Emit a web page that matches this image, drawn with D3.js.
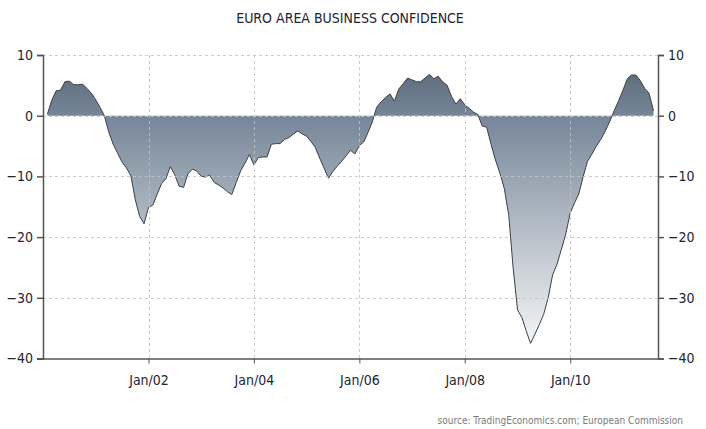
<!DOCTYPE html>
<html>
<head>
<meta charset="utf-8">
<script src="https://cdn.jsdelivr.net/npm/d3@7"></script>
<style>
  body { margin: 0; background: #fff; }
  svg text { font-family: "DejaVu Sans Condensed", "DejaVu Sans", sans-serif; font-stretch: condensed; }
</style>
</head>
<body>
<div id="chart"></div>
<script>
// Dados: índice mensal, fev/2000 a ago/2011
const startMonth = new Date(2000, 1, 1);
const values = [
  0.3, 2.5, 4.1, 4.2, 5.6, 5.7, 5.1, 5.1, 5.2, 4.5, 3.7,
  2.6, 1.3, 0.0, -2.7, -4.7, -6.2, -7.6, -8.6, -9.9, -13.8, -16.6, -17.8,
  -15.1, -14.7, -13.0, -11.2, -10.4, -8.4, -9.7, -11.6, -11.8, -9.6, -8.8, -9.1,
  -10.0, -10.1, -9.8, -11.0, -11.4, -11.9, -12.5, -13.0, -11.0, -9.1, -7.8, -6.4,
  -8.1, -6.9, -6.8, -6.8, -4.7, -4.6, -4.6, -3.9, -3.6, -3.0, -2.5, -3.0,
  -3.4, -4.3, -5.2, -7.0, -8.6, -10.3, -9.2, -8.3, -7.5, -6.6, -5.7, -6.3,
  -4.9, -4.3, -2.8, -1.0, 1.4, 2.3, 3.0, 3.6, 2.4, 4.4, 5.3, 6.2,
  5.9, 5.6, 5.6, 6.2, 6.8, 6.1, 6.5, 5.6, 5.0, 3.2, 1.9, 2.8,
  1.8, 1.2, 0.6, 0.2, -1.7, -1.9, -4.7, -7.3, -9.5, -12.0, -16.4, -25.0,
  -32.0, -33.3, -35.4, -37.5, -36.0, -34.4, -32.7, -30.0, -26.2, -24.5, -22.0, -19.5,
  -16.0, -14.3, -12.9, -10.0, -7.5, -6.3, -5.0, -3.9, -2.5, -1.0, 0.8, 2.4,
  4.2, 6.1, 6.7, 6.7, 5.8, 4.5, 3.7, 0.8
];
const yTicks = [10, 0, -10, -20, -30, -40];
const xTickDates = [new Date(2002, 0, 1), new Date(2004, 0, 1), new Date(2006, 0, 1), new Date(2008, 0, 1), new Date(2010, 0, 1)];
const title = 'EURO AREA BUSINESS CONFIDENCE';
const source = 'source: TradingEconomics.com; European Commission';

const data = values.map((v, i) => ({ date: d3.timeMonth.offset(startMonth, i), value: v }));

const W = 706, H = 429;
const margin = {top: 55, right: 48, bottom: 70, left: 43};
const width = W - margin.left - margin.right;
const height = H - margin.top - margin.bottom - 0.5;

const svg = d3.select('#chart').append('svg')
  .attr('width', W).attr('height', H);

const x = d3.scaleTime()
  .domain([new Date(2000, 0, 1), new Date(2011, 8, 1)])
  .range([0, width]);
const y = d3.scaleLinear().domain([-40, 10]).range([height, 0]);

const g = svg.append('g').attr('transform', `translate(${margin.left},${margin.top})`);

// Gradiente da área
const grad = svg.append('defs').append('linearGradient')
  .attr('id', 'areaGrad')
  .attr('gradientUnits', 'userSpaceOnUse')
  .attr('x1', 0).attr('x2', 0)
  .attr('y1', y(7)).attr('y2', y(-38));
grad.append('stop').attr('offset', '0%').attr('stop-color', '#5e6d7e');
grad.append('stop').attr('offset', '16%').attr('stop-color', '#778799');
grad.append('stop').attr('offset', '100%').attr('stop-color', '#f5f6f7');

const area = d3.area()
  .x(d => x(d.date))
  .y0(y(0))
  .y1(d => y(d.value));

g.append('path')
  .datum(data)
  .attr('d', area)
  .attr('fill', 'url(#areaGrad)');

g.append('path')
  .datum(data)
  .attr('d', d3.line().x(d => x(d.date)).y(d => y(d.value)))
  .attr('fill', 'none')
  .attr('stroke', '#3c3f44')
  .attr('stroke-width', 1);

// Grade tracejada
g.append('g')
  .selectAll('line')
  .data(yTicks.filter(t => t !== -40))
  .enter().append('line')
  .attr('x1', 0).attr('x2', width)
  .attr('y1', d => Math.round(y(d)) + 0.5).attr('y2', d => Math.round(y(d)) + 0.5)
  .attr('stroke', 'rgba(195,195,195,0.85)')
  .attr('stroke-dasharray', '3,3');

g.append('g')
  .selectAll('line')
  .data(xTickDates)
  .enter().append('line')
  .attr('x1', d => Math.round(x(d)) + 0.5).attr('x2', d => Math.round(x(d)) + 0.5)
  .attr('y1', 0).attr('y2', height)
  .attr('stroke', 'rgba(195,195,195,0.85)')
  .attr('stroke-dasharray', '3,3');

// Eixos
const axisColor = '#555';
const yLeft = g.append('g')
  .call(d3.axisLeft(y).tickValues(yTicks).tickSize(6).tickPadding(4));
const yRight = g.append('g')
  .attr('transform', `translate(${width},0)`)
  .call(d3.axisRight(y).tickValues(yTicks).tickSize(6).tickPadding(4));
const xAxis = g.append('g')
  .attr('transform', `translate(0,${height})`)
  .call(d3.axisBottom(x).tickValues(xTickDates).tickSize(5).tickPadding(12)
    .tickFormat(d3.timeFormat('%b/%y')));

[yLeft, yRight, xAxis].forEach(ax => {
  ax.select('.domain').attr('stroke', axisColor).attr('stroke-width', 1.5);
  ax.selectAll('.tick line').attr('stroke', axisColor).attr('stroke-width', 1.5);
  ax.selectAll('text')
    .attr('fill', '#1e2333')
    .style('font-size', '14px');
});
xAxis.select('.domain').attr('d', `M-6,0.5H${width}`);
xAxis.selectAll('.tick line').attr('stroke-width', 1);

// Título
svg.append('text')
  .attr('x', 350).attr('y', 23)
  .attr('text-anchor', 'middle')
  .attr('fill', '#1e2333')
  .style('font-size', '14px')
  .text(title);

// Fonte
svg.append('text')
  .attr('x', 683).attr('y', 424)
  .attr('text-anchor', 'end')
  .attr('fill', '#7a7a7a')
  .style('font-family', '"DejaVu Sans Condensed", "DejaVu Sans", sans-serif')
  .style('font-size', '10px')
  .text(source);
</script>
</body>
</html>
